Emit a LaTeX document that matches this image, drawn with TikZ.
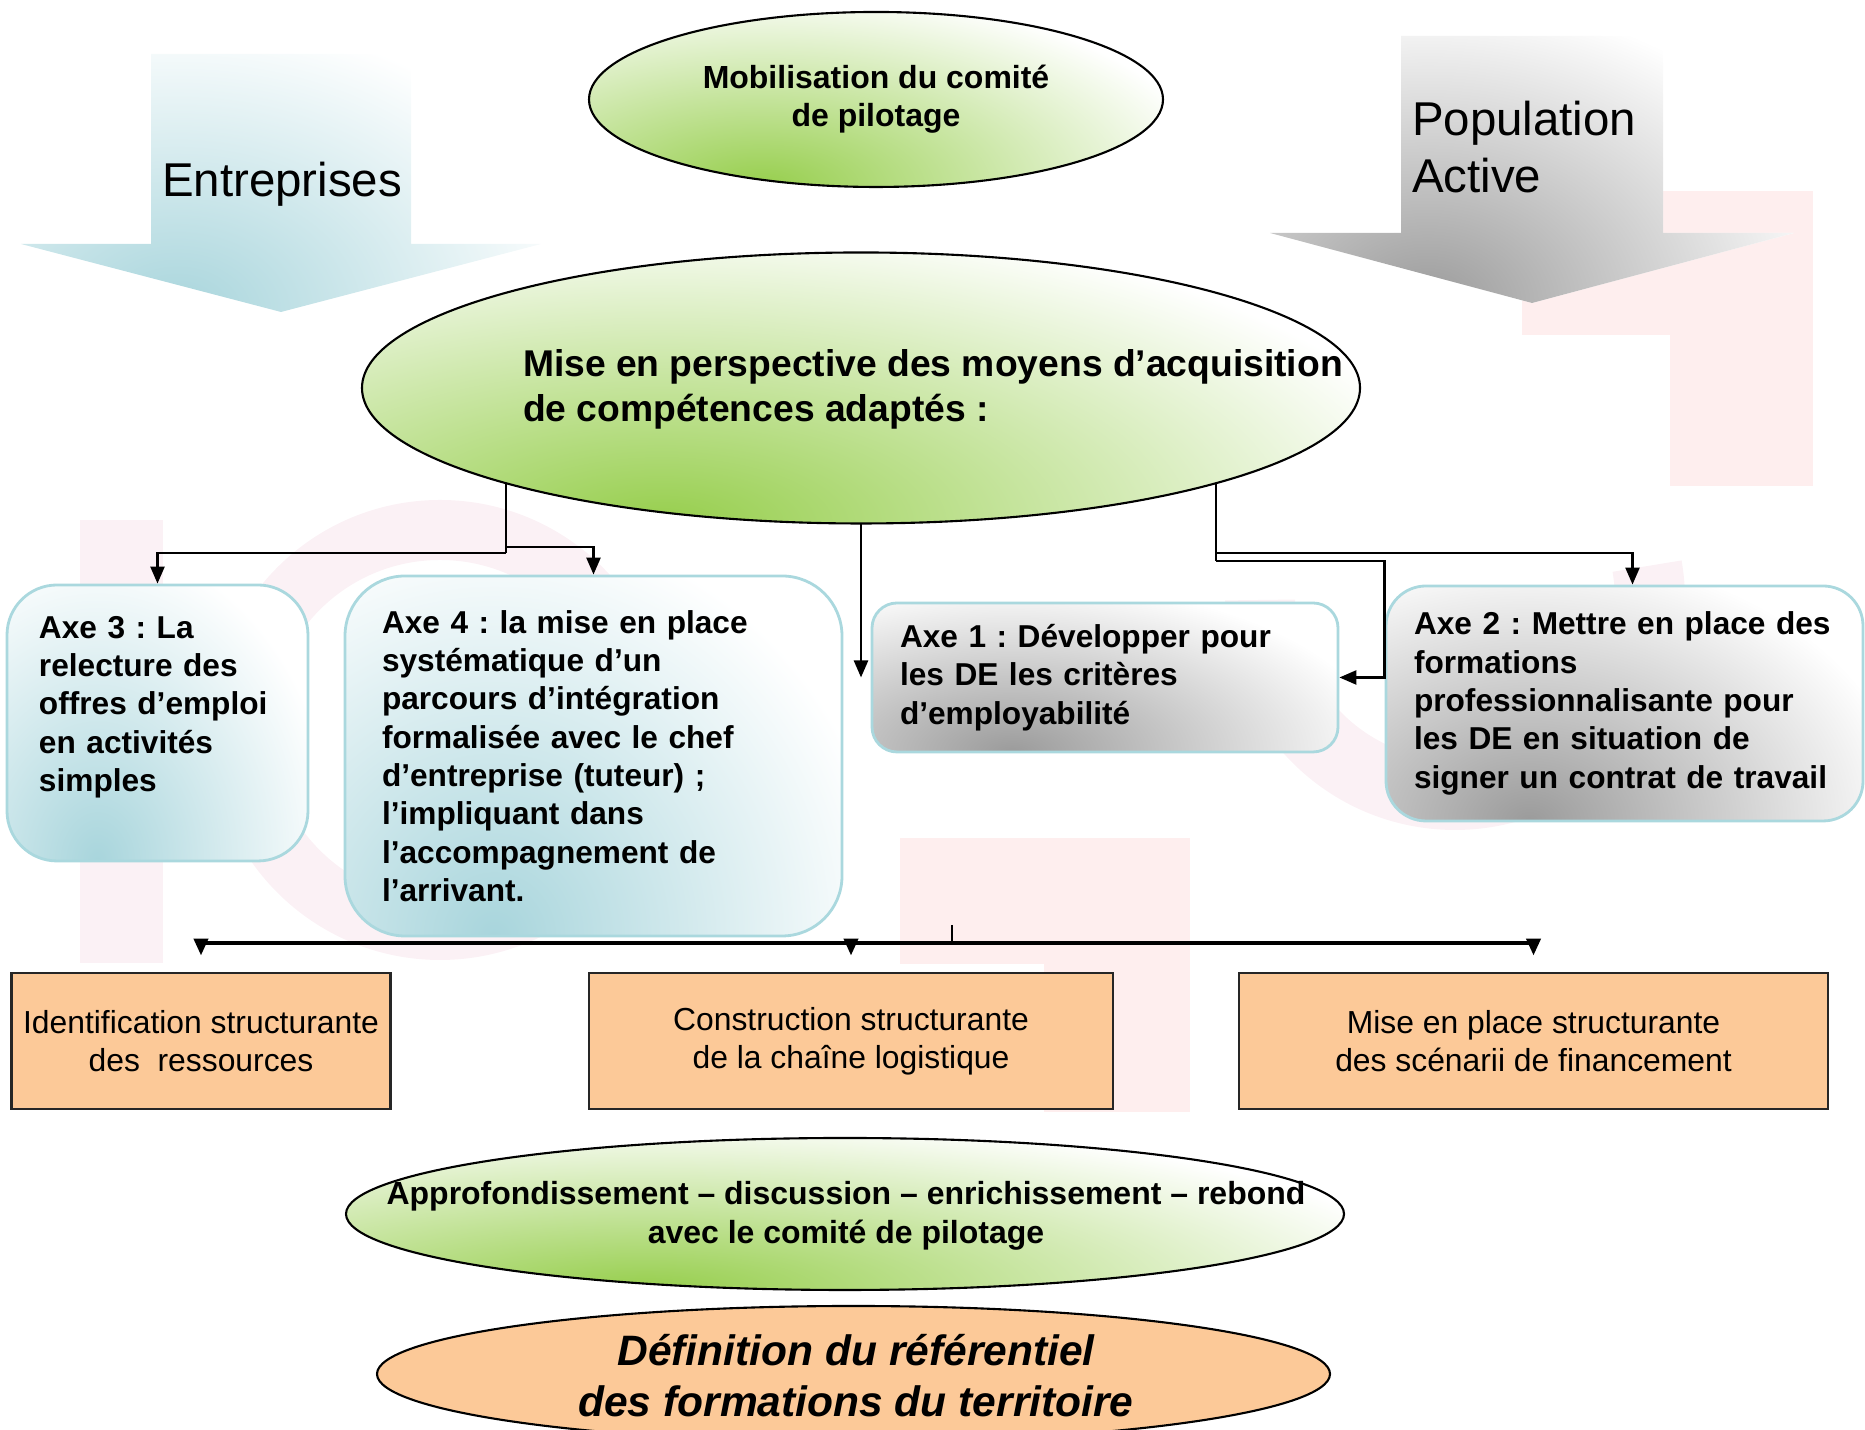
\documentclass[tikz,border=0pt]{standalone}
\usepackage{fontspec}
\setmainfont{Liberation Sans}
\usetikzlibrary{calc,shapes.geometric,arrows.meta}
\frenchspacing

\definecolor{leafgreen}{RGB}{150,206,76}
\definecolor{peach}{RGB}{252,201,152}
\definecolor{axeblue}{RGB}{168,213,220}
\definecolor{axeedge}{RGB}{170,216,222}
\definecolor{steel}{RGB}{155,155,155}
\definecolor{wmpink}{RGB}{251,241,245}
\definecolor{wmred}{RGB}{254,238,238}

\def\blockarrow[#1](#2:#3:#4:#5:#6:#7){\path[#1] ({#2-#3},#4) -- ({#2+#3},#4) -- ({#2+#3},#5) -- ({#2+#6},#5) -- (#2,#7) -- ({#2-#6},#5) -- ({#2-#3},#5) -- cycle;}

\tikzset{
	% degrade partant du bas a gauche
	glowfill/.style={fill=white, path picture={
		\shade[inner color=#1, outer color=white] let \p1=(path picture bounding box.south west), \p2=(path picture bounding box.north east) in
			({\x1+0.3*(\x2-\x1)},\y1) ellipse [x radius={0.8*(\x2-\x1)}, y radius={1.15*(\y2-\y1)}];}},
	greenell/.style={ellipse, draw=black, line width=0.6pt, inner sep=0pt, outer sep=0pt, glowfill=leafgreen},
	peachell/.style={ellipse, draw=black, line width=0.6pt, inner sep=0pt, outer sep=0pt, fill=peach},
	axebox/.style={rectangle, draw=axeedge, line width=0.8pt, align=left, inner ysep=0pt,
		font=\fontsize{9}{10.9}\selectfont\bfseries},
	orangebox/.style={rectangle, draw=black!85, line width=0.8pt, fill=peach, minimum height=1.36cm,
		align=center, font=\fontsize{9.06}{10.8}\selectfont},
	plaintext/.style={inner sep=0pt, outer sep=0pt},
	conn/.style={-{Triangle[length=0.17cm,width=0.14cm]}, line width=0.7pt},
	busline/.style={line width=1.1pt}
}

\begin{document}
\begin{tikzpicture}
	%%%%% START %%%%%
	\useasboundingbox (0,0) rectangle (18.65,14.30);
	
	% filigrane
	\fill[wmpink] (0.80,4.67) rectangle (1.63,9.10);
	\draw[wmpink, line width=0.6cm] (4.4,7.0) circle (2.0);
	\draw[wmpink, line width=0.7cm] (12.6,8.3) arc (180:370:1.95);
	\fill[wmred] (16.70,9.44) rectangle (18.13,12.39);
	\fill[wmred] (15.22,10.95) rectangle (16.70,12.39);
	\fill[wmred] (9.00,4.66) rectangle (11.90,5.92);
	\fill[wmred] (10.44,3.18) rectangle (11.90,4.66);
	
	% grosses fleches
	\blockarrow[glowfill=axeblue](2.81:1.30:13.76:11.86:2.60:11.18)
	\blockarrow[glowfill=steel](15.32:1.31:13.94:11.97:2.62:11.27)
	\node[plaintext, anchor=west, font=\fontsize{13.5}{16.2}\selectfont] (entreprises) at (1.62,12.46) {Entreprises};
	\node[plaintext, anchor=west, align=left, font=\fontsize{13.5}{16.2}\selectfont] (population) at (14.12,12.825) {Population\\Active};
	
	% ellipses
	\node[greenell, minimum width=5.74cm, minimum height=1.75cm, align=center,
		font=\fontsize{9.1}{10.8}\selectfont\bfseries] (comite) at (8.76,13.305) {Mobilisation du comité\\de pilotage};
	\node[greenell, minimum width=9.98cm, minimum height=2.71cm] (persp) at (8.61,10.42) {};
	\node[plaintext, anchor=west, align=left, font=\fontsize{10.6}{12.85}\selectfont\bfseries] (persptxt) at (5.23,10.41)
		{Mise en perspective des moyens d’acquisition\\de compétences adaptés :};
	
	% axes
	\node[axebox, glowfill=axeblue, rounded corners=0.5cm, inner xsep=0.32cm, text width=2.37cm, minimum height=2.76cm] (axe3) at (1.575,7.07)
		{Axe 3 : La\\relecture des\\offres d’emploi\\en activités\\simples\\\mbox{}};
	\node[axebox, glowfill=axeblue, rounded corners=0.6cm, inner xsep=0.37cm, text width=4.23cm, minimum height=3.60cm] (axe4) at (5.935,6.74)
		{Axe 4 : la mise en place\\systématique d’un\\parcours d’intégration\\formalisée avec le chef\\d’entreprise (tuteur) ;\\l’impliquant dans\\l’accompagnement de\\l’arrivant.};
	\node[axebox, glowfill=steel, rounded corners=0.25cm, inner xsep=0.28cm, text width=4.10cm, minimum height=1.49cm] (axe1) at (11.05,7.525)
		{Axe 1 : Développer pour\\les DE les critères\\d’employabilité};
	\node[axebox, glowfill=steel, rounded corners=0.4cm, inner xsep=0.28cm, text width=4.21cm, minimum height=2.35cm] (axe2) at (16.245,7.265)
		{Axe 2 : Mettre en place des\\formations\\professionnalisante pour\\les DE en situation de\\signer un contrat de travail};
	
	% liaisons
	\coordinate (jl) at ($(persp.195)+(0,-0.70)$);
	\draw[line width=0.7pt] (persp.195) -- (jl);
	\draw[conn] (jl) -| (axe3.north);
	\draw[conn] ($(jl)+(0,0.06)$) -| (axe4.north);
	\draw[conn] (persp.south) -- (persp.south |- axe1.west);
	\coordinate (jr) at ($(persp.345)+(0,-0.78)$);
	\draw[line width=0.7pt] (persp.345) -- (jr);
	\draw[conn] ($(jr)+(0,0.08)$) -| ([xshift=0.08cm]axe2.north);
	\draw[conn] (jr) -| (axe2.west |- axe1.east) -- (axe1.east);
	
	% chantiers
	\node[orangebox, minimum width=3.74cm] (ressources) at (2.01,3.89) {Identification structurante\\des~~ressources};
	\node[orangebox, minimum width=5.24cm] (logistique) at (8.51,3.89) {Construction structurante\\de la chaîne logistique};
	\node[orangebox, minimum width=5.89cm] (financement) at (15.335,3.89) {Mise en place structurante\\des scénarii de financement};
	
	\coordinate (hub) at (9.52,5.05);
	\coordinate (bus) at (9.52,4.87);
	\draw[line width=0.6pt] (hub) -- (bus);
	\draw[conn, busline] (bus) -| ([yshift=0.16cm]ressources.north);
	\draw[conn, busline] (bus) -| ([yshift=0.16cm]logistique.north);
	\draw[conn, busline] (bus) -| ([yshift=0.16cm]financement.north);
	
	% bas
	\node[greenell, minimum width=9.98cm, minimum height=1.52cm] (appro) at (8.45,2.16) {};
	\node[plaintext, align=center, font=\fontsize{9.1}{11.2}\selectfont\bfseries] (approtxt) at (8.46,2.14)
		{Approfondissement – discussion – enrichissement – rebond\\avec le comité de pilotage};
	\node[peachell, minimum width=9.53cm, minimum height=1.36cm] (definition) at (8.535,0.56) {};
	\node[plaintext, align=center, font=\fontsize{12.1}{14.5}\selectfont\bfseries\itshape] (definitiontxt) at (8.56,0.545)
		{Définition du référentiel\\des formations du territoire};
	
	%%%%% END %%%%%
\end{tikzpicture}
\end{document}
